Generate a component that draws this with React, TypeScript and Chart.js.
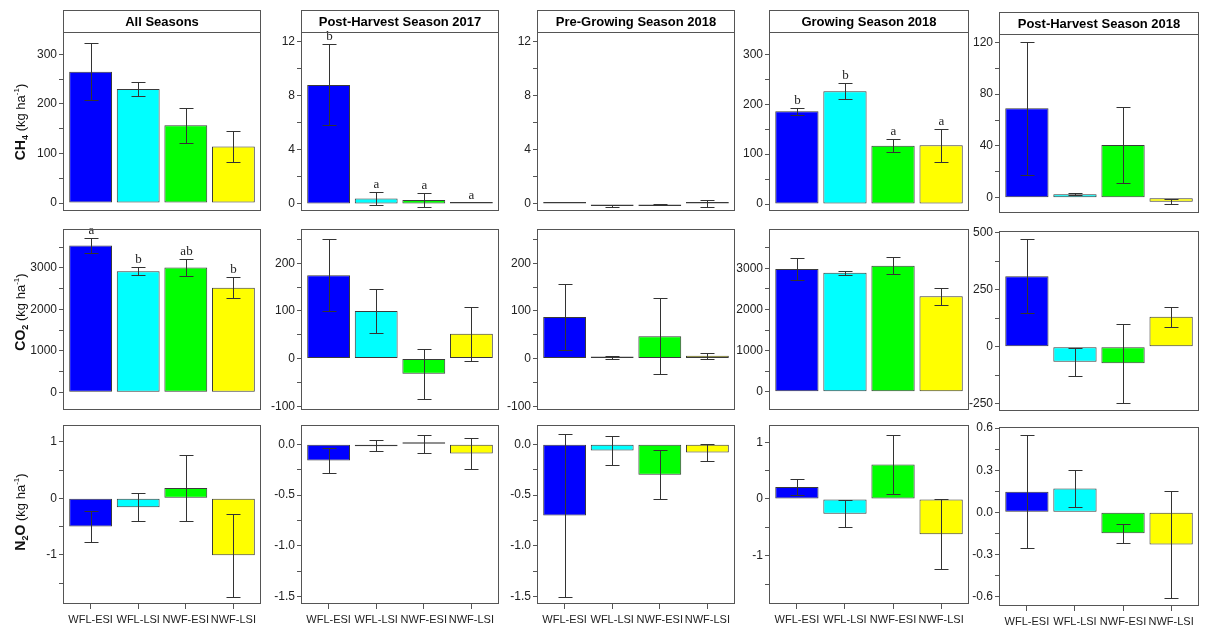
import React, { useEffect, useRef } from "react";
import { Chart, registerables } from "chart.js";

Chart.register(...registerables);

// ---------- categories / labels ----------
const treatments = ["WFL-ESI", "WFL-LSI", "NWF-ESI", "NWF-LSI"];
const barColors = ["#0000FF", "#00FFFF", "#00FF00", "#FFFF00"];
const seasons = [
  "All Seasons",
  "Post-Harvest Season 2017",
  "Pre-Growing Season 2018",
  "Growing Season 2018",
  "Post-Harvest Season 2018",
];

// ---------- CH4 (kg ha-1) ----------
const ch4All = [265, 230, 157, 114];
const ch4AllErr = [57, 15, 35, 31];
const ch4Ph17 = [8.8, 0.4, 0.3, 0.02];
const ch4Ph17Err = [3.0, 0.45, 0.5, 0];
const ch4Ph17Letters = ["b", "a", "a", "a"];
const ch4Pg18 = [0.12, -0.12, -0.06, 0.05];
const ch4Pg18Err = [0, 0.08, 0.03, 0.27];
const ch4Gs18 = [186, 226, 117, 118];
const ch4Gs18Err = [7, 16, 13, 33];
const ch4Gs18Letters = ["b", "b", "a", "a"];
const ch4Ph18 = [69, 2.7, 40.7, -3.1];
const ch4Ph18Err = [51.5, 0.9, 29, 2];

// ---------- CO2 (kg ha-1) ----------
const co2All = [3540, 2915, 3010, 2520];
const co2AllErr = [185, 95, 200, 255];
const co2AllLetters = ["a", "b", "ab", "b"];
const co2Ph17 = [175, 100, -32, 52];
const co2Ph17Err = [76, 47, 53, 57];
const co2Pg18 = [87, 3, 47, 6];
const co2Pg18Err = [69, 3, 80, 6];
const co2Gs18 = [2985, 2895, 3066, 2321];
const co2Gs18Err = [262, 48, 206, 201];
const co2Ph18 = [309, -66, -73, 131];
const co2Ph18Err = [161, 62, 173, 45];

// ---------- N2O (kg ha-1) ----------
const n2oAll = [-0.5, -0.16, 0.18, -1.01];
const n2oAllErr = [0.28, 0.25, 0.58, 0.73];
const n2oPh17 = [-0.16, -0.01, 0.005, -0.09];
const n2oPh17Err = [0.125, 0.055, 0.09, 0.155];
const n2oPg18 = [-0.7, -0.06, -0.3, -0.08];
const n2oPg18Err = [0.8, 0.145, 0.24, 0.08];
const n2oGs18 = [0.21, -0.26, 0.61, -0.62];
const n2oGs18Err = [0.145, 0.235, 0.525, 0.62];
const n2oPh18 = [0.147, 0.17, -0.15, -0.23];
const n2oPh18Err = [0.405, 0.13, 0.07, 0.38];

// ---------- tick values ----------
const ticksCh4Big = [0, 100, 200, 300];
const minorCh4Big = [50, 150, 250];
const ticksCh4Small = [0, 4, 8, 12];
const minorCh4Small = [2, 6, 10];
const ticksCh4Ph18 = [0, 40, 80, 120];
const minorCh4Ph18 = [20, 60, 100];
const ticksCo2Big = [0, 1000, 2000, 3000];
const minorCo2Big = [500, 1500, 2500, 3500];
const ticksCo2Small = [-100, 0, 100, 200];
const minorCo2Small = [-50, 50, 150, 250];
const ticksCo2Ph18 = [-250, 0, 250, 500];
const minorCo2Ph18 = [-125, 125, 375];
const ticksN2oBig = [-1, 0, 1];
const minorN2oBig = [-1.5, -0.5, 0.5];
const ticksN2oSmall = [-1.5, -1.0, -0.5, 0.0];
const minorN2oSmall = [-1.25, -0.75, -0.25];
const ticksN2oPh18 = [-0.6, -0.3, 0.0, 0.3, 0.6];
const minorN2oPh18 = [-0.45, -0.15, 0.15, 0.45];

type Panel = {
  title?: string;
  values: number[];
  errs: number[];
  letters?: string[];
  min: number;
  max: number;
  major: number[];
  minor: number[];
  decimals: number;
  box: [number, number, number, number]; // left, top, right, bottom of plot area
  showX: boolean;
};

const colX: [number, number][] = [
  [63, 261],
  [301, 499],
  [537, 735],
  [769, 969],
  [999, 1199],
];

const panels: Panel[] = [
  // Row 1: CH4
  { title: seasons[0], values: ch4All, errs: ch4AllErr, min: -16, max: 345, major: ticksCh4Big, minor: minorCh4Big, decimals: 0, box: [colX[0][0], 32, colX[0][1], 211], showX: false },
  { title: seasons[1], values: ch4Ph17, errs: ch4Ph17Err, letters: ch4Ph17Letters, min: -0.52, max: 12.71, major: ticksCh4Small, minor: minorCh4Small, decimals: 0, box: [colX[1][0], 32, colX[1][1], 211], showX: false },
  { title: seasons[2], values: ch4Pg18, errs: ch4Pg18Err, min: -0.52, max: 12.71, major: ticksCh4Small, minor: minorCh4Small, decimals: 0, box: [colX[2][0], 32, colX[2][1], 211], showX: false },
  { title: seasons[3], values: ch4Gs18, errs: ch4Gs18Err, letters: ch4Gs18Letters, min: -14, max: 345, major: ticksCh4Big, minor: minorCh4Big, decimals: 0, box: [colX[3][0], 32, colX[3][1], 211], showX: false },
  { title: seasons[4], values: ch4Ph18, errs: ch4Ph18Err, min: -11.8, max: 126.4, major: ticksCh4Ph18, minor: minorCh4Ph18, decimals: 0, box: [colX[4][0], 34, colX[4][1], 213], showX: false },
  // Row 2: CO2
  { values: co2All, errs: co2AllErr, letters: co2AllLetters, min: -426, max: 3935, major: ticksCo2Big, minor: minorCo2Big, decimals: 0, box: [colX[0][0], 229, colX[0][1], 410], showX: false },
  { values: co2Ph17, errs: co2Ph17Err, min: -108, max: 272, major: ticksCo2Small, minor: minorCo2Small, decimals: 0, box: [colX[1][0], 229, colX[1][1], 410], showX: false },
  { values: co2Pg18, errs: co2Pg18Err, min: -108, max: 272, major: ticksCo2Small, minor: minorCo2Small, decimals: 0, box: [colX[2][0], 229, colX[2][1], 410], showX: false },
  { values: co2Gs18, errs: co2Gs18Err, min: -445, max: 3959, major: ticksCo2Big, minor: minorCo2Big, decimals: 0, box: [colX[3][0], 229, colX[3][1], 410], showX: false },
  { values: co2Ph18, errs: co2Ph18Err, min: -282, max: 507, major: ticksCo2Ph18, minor: minorCo2Ph18, decimals: 0, box: [colX[4][0], 231, colX[4][1], 411], showX: false },
  // Row 3: N2O
  { values: n2oAll, errs: n2oAllErr, min: -1.871, max: 1.297, major: ticksN2oBig, minor: minorN2oBig, decimals: 0, box: [colX[0][0], 425, colX[0][1], 604], showX: true },
  { values: n2oPh17, errs: n2oPh17Err, min: -1.572, max: 0.19, major: ticksN2oSmall, minor: minorN2oSmall, decimals: 1, box: [colX[1][0], 425, colX[1][1], 604], showX: true },
  { values: n2oPg18, errs: n2oPg18Err, min: -1.572, max: 0.19, major: ticksN2oSmall, minor: minorN2oSmall, decimals: 1, box: [colX[2][0], 425, colX[2][1], 604], showX: true },
  { values: n2oGs18, errs: n2oGs18Err, min: -1.852, max: 1.305, major: ticksN2oBig, minor: minorN2oBig, decimals: 0, box: [colX[3][0], 425, colX[3][1], 604], showX: true },
  { values: n2oPh18, errs: n2oPh18Err, min: -0.668, max: 0.608, major: ticksN2oPh18, minor: minorN2oPh18, decimals: 1, box: [colX[4][0], 427, colX[4][1], 606], showX: true },
];

const FONT = '"Liberation Sans", Arial, sans-serif';
const Y_W = 50;
const PAD_R = 8;
const STRIP_H = 22;
const X_MIN = -0.58;
const X_MAX = 3.58;

function PanelChart({ p }: { p: Panel }) {
  const ref = useRef<HTMLCanvasElement | null>(null);
  const padTop = p.title ? STRIP_H + 2 : 10;
  const padBottom = p.showX ? 0 : 10;
  const xH = p.showX ? 30 : 0;
  const [bl, bt, br, bb] = p.box;
  const width = Y_W + (br - bl) + PAD_R;
  const height = padTop + (bb - bt) + xH + padBottom;
  const left = bl - Y_W;
  const top = bt - padTop;

  useEffect(() => {
    if (!ref.current) return;
    const allTicks = [...p.major, ...p.minor].sort((a, b) => a - b);
    const isMajor = (v: number) => p.major.some((m) => Math.abs(m - v) < 1e-9);

    const decor = {
      id: "decor",
      afterDatasetsDraw(chart: any) {
        const ctx = chart.ctx;
        const xs = chart.scales.x;
        const ys = chart.scales.y;
        ctx.save();
        ctx.strokeStyle = "#333";
        ctx.lineWidth = 1;
        p.values.forEach((v, i) => {
          const e = p.errs[i];
          const cx = Math.round(xs.getPixelForValue(i)) + 0.5;
          let topPx = ys.getPixelForValue(Math.max(v, 0)) - 1;
          if (e > 0) {
            const t = Math.round(ys.getPixelForValue(v + e)) + 0.5;
            const b = Math.round(ys.getPixelForValue(v - e)) + 0.5;
            ctx.beginPath();
            ctx.moveTo(cx, t);
            ctx.lineTo(cx, b);
            ctx.moveTo(cx - 7, t);
            ctx.lineTo(cx + 7, t);
            ctx.moveTo(cx - 7, b);
            ctx.lineTo(cx + 7, b);
            ctx.stroke();
            topPx = Math.min(t, topPx);
          }
          if (p.letters && p.letters[i]) {
            ctx.fillStyle = "#222";
            ctx.font = '13px "Liberation Serif", serif';
            ctx.textAlign = "center";
            ctx.textBaseline = "bottom";
            ctx.fillText(p.letters[i], cx, topPx - 1);
          }
        });
        ctx.restore();
      },
      afterDraw(chart: any) {
        const ctx = chart.ctx;
        const a = chart.chartArea;
        ctx.save();
        ctx.strokeStyle = "#555";
        ctx.lineWidth = 1;
        ctx.strokeRect(a.left + 0.5, a.top + 0.5, a.right - a.left - 1, a.bottom - a.top - 1);
        if (p.title) {
          ctx.strokeRect(a.left + 0.5, a.top - STRIP_H + 0.5, a.right - a.left - 1, STRIP_H);
          ctx.fillStyle = "#000";
          ctx.font = "bold 13px " + FONT;
          ctx.textAlign = "center";
          ctx.textBaseline = "middle";
          ctx.fillText(p.title, (a.left + a.right) / 2, a.top - STRIP_H / 2 + 1);
        }
        ctx.restore();
      },
    };

    const chart = new Chart(ref.current, {
      type: "bar",
      data: {
        datasets: [
          {
            data: p.values.map((v, i) => ({ x: i, y: v })),
            backgroundColor: barColors,
            borderColor: "#3a3a3a",
            borderWidth: 1,
            borderSkipped: false,
            minBarLength: 2,
            categoryPercentage: 1,
            barPercentage: 0.9,
          },
        ],
      },
      options: {
        animation: false,
        responsive: false,
        devicePixelRatio: 1,
        events: [],
        layout: { padding: { left: 0, right: PAD_R, top: padTop, bottom: padBottom } },
        plugins: { legend: { display: false }, tooltip: { enabled: false }, title: { display: false } },
        scales: {
          x: {
            type: "linear",
            display: p.showX,
            min: X_MIN,
            max: X_MAX,
            offset: false,
            grid: { display: true, offset: false, drawOnChartArea: false, drawTicks: true, tickLength: 5, color: "#555" },
            border: { display: false },
            ticks: {
              autoSkip: false,
              maxRotation: 0,
              minRotation: 0,
              padding: 4,
              color: "#222",
              font: { family: FONT, size: 11 },
              callback: (v: any) => treatments[Math.round(Number(v))] ?? "",
            },
            afterBuildTicks: (s: any) => {
              s.ticks = treatments.map((_, i) => ({ value: i }));
            },
            afterFit: (s: any) => {
              s.height = xH;
            },
          },
          y: {
            min: p.min,
            max: p.max,
            grid: { display: true, drawOnChartArea: false, drawTicks: true, tickLength: 4, color: "#555" },
            border: { display: false },
            ticks: {
              autoSkip: false,
              padding: 2,
              color: "#222",
              font: { family: FONT, size: 12 },
              callback: (v: any) => (isMajor(Number(v)) ? Number(v).toFixed(p.decimals) : ""),
            },
            afterBuildTicks: (s: any) => {
              s.ticks = allTicks.map((v) => ({ value: v }));
            },
            afterFit: (s: any) => {
              s.width = Y_W;
            },
          },
        },
      } as any,
      plugins: [decor],
    });
    return () => chart.destroy();
  }, []);

  return (
    <canvas
      ref={ref}
      width={width}
      height={height}
      style={{ position: "absolute", left, top, width, height }}
    />
  );
}

function AxisTitle({ main, y }: { main: [string, string, string]; y: number }) {
  return (
    <div
      style={{
        position: "absolute",
        left: 21,
        top: y,
        transform: "translate(-50%, -50%) rotate(-90deg)",
        whiteSpace: "nowrap",
        fontFamily: FONT,
        fontSize: 13,
        color: "#111",
        lineHeight: "16px",
      }}
    >
      <span style={{ fontWeight: "bold", fontSize: 14 }}>
        {main[0]}
        <span style={{ fontSize: 9, verticalAlign: "-3px" }}>{main[1]}</span>
        {main[2]}
      </span>{" "}
      (kg ha<span style={{ fontSize: 8, verticalAlign: "6px" }}>-1</span>)
    </div>
  );
}

export default function App() {
  return (
    <div style={{ position: "absolute", left: 0, top: 0, width: 1213, height: 627, background: "#fff", overflow: "hidden" }}>
      {panels.map((p, i) => (
        <PanelChart key={i} p={p} />
      ))}
      <AxisTitle main={["CH", "4", ""]} y={122} />
      <AxisTitle main={["CO", "2", ""]} y={312} />
      <AxisTitle main={["N", "2", "O"]} y={512} />
    </div>
  );
}
